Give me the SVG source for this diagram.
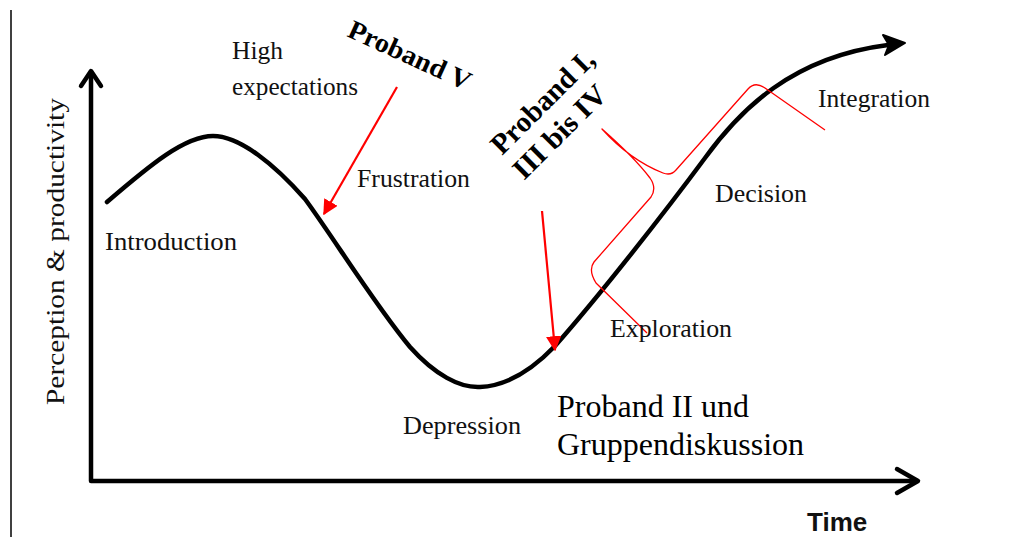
<svg xmlns="http://www.w3.org/2000/svg" width="1010" height="537" viewBox="0 0 1010 537">
<defs>
<style>
.lbl{font-family:"Liberation Serif","Times New Roman",serif;font-size:26px;fill:#111}
.bold{font-family:"Liberation Serif","Times New Roman",serif;font-weight:bold;fill:#000}
.axis{fill:none;stroke:#000;stroke-width:4.5;stroke-linecap:round;stroke-linejoin:round}
.red{fill:none;stroke:#f00;stroke-width:2.2}
.brace{fill:none;stroke:#f00;stroke-width:1.3;stroke-linejoin:round}
</style>
<marker id="redhead" viewBox="0 0 10 10" refX="9" refY="5" markerWidth="7" markerHeight="7" markerUnits="strokeWidth" orient="auto">
<path d="M0,0 L10,5 L0,10 Z" fill="#f00"/>
</marker>
</defs>
<rect width="1010" height="537" fill="#fff"/>
<line x1="11" y1="10" x2="11" y2="537" stroke="#000" stroke-width="1.5"/>
<g id="axes">
<path class="axis" d="M91,74 L91,481 L917,481"/>
<path class="axis" d="M81,86 L91,71 L101,86"/>
<path class="axis" d="M897,469 L918,481 L897,493"/>
</g>
<g id="curve">
<path d="M107,202 C150,165 185,136 213,136 C240,136 275,165 305,199 C335,240 375,305 410,347 C435,375 460,388 480,387 C505,386 530,372 555,346 C600,295 665,212 705,158 C740,110 792,57 888,45" fill="none" stroke="#000" stroke-width="4.5" stroke-linecap="round"/>
<path d="M905,43 L883,35 L889,45 L885,55 Z" fill="#000" stroke="#000" stroke-width="2" stroke-linejoin="round"/>
</g>
<g id="connectors">
<line class="red" x1="397" y1="87" x2="324" y2="214" marker-end="url(#redhead)"/>
<line class="red" x1="542" y1="211" x2="555" y2="350" marker-end="url(#redhead)"/>
<path class="brace" d="M825,130 L765,88 Q755,81 748,89 L676,170 Q671,176 663,173 Q630,160 602,129 Q635,158 650,178 Q657,188 651,197 L594,262 Q588,270 596,283 L647,333"/>
</g>
<g id="label-y"><text class="lbl" font-size="27" transform="translate(64,405) rotate(-90)" textLength="307" lengthAdjust="spacingAndGlyphs">Perception &amp; productivity</text></g>
<g id="label-time"><text x="807" y="531" font-family="'Liberation Sans',Arial,sans-serif" font-weight="bold" font-size="26" fill="#111">Time</text></g>
<g id="stage-introduction"><text class="lbl" x="105" y="250" textLength="132" lengthAdjust="spacingAndGlyphs">Introduction</text></g>
<g id="stage-high"><text class="lbl" x="232" y="59" textLength="51" lengthAdjust="spacingAndGlyphs">High</text><text class="lbl" x="232" y="95" textLength="126" lengthAdjust="spacingAndGlyphs">expectations</text></g>
<g id="stage-frustration"><text class="lbl" x="357" y="187" textLength="113" lengthAdjust="spacingAndGlyphs">Frustration</text></g>
<g id="stage-depression"><text class="lbl" x="403" y="434" textLength="118" lengthAdjust="spacingAndGlyphs">Depression</text></g>
<g id="stage-exploration"><text class="lbl" x="610" y="337" textLength="122" lengthAdjust="spacingAndGlyphs">Exploration</text></g>
<g id="stage-decision"><text class="lbl" x="715" y="202" textLength="92" lengthAdjust="spacingAndGlyphs">Decision</text></g>
<g id="stage-integration"><text class="lbl" x="818" y="107" textLength="112" lengthAdjust="spacingAndGlyphs">Integration</text></g>
<g id="proband-v"><text class="bold" font-size="27" transform="translate(346,36) rotate(24.5)" textLength="132" lengthAdjust="spacingAndGlyphs">Proband V</text></g>
<g id="proband-i-iv">
<text class="bold" font-size="29" transform="translate(502,156) rotate(-45)" textLength="134" lengthAdjust="spacingAndGlyphs">Proband I,</text>
<text class="bold" font-size="29" transform="translate(524,181) rotate(-45)" textLength="120" lengthAdjust="spacingAndGlyphs">III bis IV</text>
</g>
<g id="proband-ii"><text font-family="'Liberation Serif','Times New Roman',serif" font-size="32" fill="#000"><tspan x="557" y="417">Proband II und</tspan><tspan x="557" y="455">Gruppendiskussion</tspan></text></g>
</svg>
